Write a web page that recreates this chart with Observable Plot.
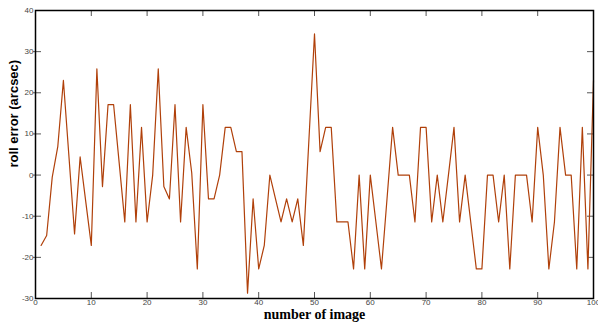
<!DOCTYPE html>
<html>
<head>
<meta charset="utf-8">
<script src="https://cdn.jsdelivr.net/npm/d3@7"></script>
<script src="https://cdn.jsdelivr.net/npm/@observablehq/plot@0.6"></script>
<style>
  html, body { margin: 0; padding: 0; background: #fff; }
  #chart svg { display: block; }
</style>
</head>
<body>
<div id="chart"></div>
<script>
// image numbers 1..100
const imageNumber = d3.range(1, 101);
// roll error (arcsec)
const rollError = [
  -17.1, -14.7, -0.5, 7.0, 23.0, 4.4, -14.3, 4.4, -6.4, -17.1,
  25.8, -2.8, 17.1, 17.1, 2.9, -11.4, 17.1, -11.4, 11.6, -11.4,
  0.0, 25.8, -2.8, -5.8, 17.1, -11.4, 11.6, 0.5, -22.8, 17.1,
  -5.8, -5.8, 0.0, 11.6, 11.6, 5.7, 5.7, -28.7, -5.8, -22.8,
  -17.1, 0.0, -5.7, -11.4, -5.8, -11.4, -5.8, -17.1, 8.6, 34.3,
  5.7, 11.6, 11.6, -11.4, -11.4, -11.4, -22.8, 0.0, -22.8, 0.0,
  -11.4, -22.8, -5.7, 11.6, 0.0, 0.0, 0.0, -11.4, 11.6, 11.6,
  -11.4, 0.0, -11.4, 0.0, 11.6, -11.4, 0.0, -11.4, -22.8, -22.8,
  0.0, 0.0, -11.4, 0.0, -22.8, 0.0, 0.0, 0.0, -11.4, 11.6,
  0.0, -22.8, -11.4, 11.6, 0.0, 0.0, -22.8, 11.6, -22.8, 23.0
];
const xTickLabels = [0, 10, 20, 30, 40, 50, 60, 70, 80, 90, 100];
const yTickLabels = [-30, -20, -10, 0, 10, 20, 30, 40];
const xInnerTicks = [10, 20, 30, 40, 50, 60, 70, 80, 90];
const yInnerTicks = [-20, -10, 0, 10, 20, 30];
const xLabel = "number of image";
const yLabel = "roll error (arcsec)";

const data = imageNumber.map((n, i) => ({n, v: rollError[i]}));

const W = 598, H = 327;
const mL = 35, mR = 5, mT = 10, mB = 29;
const innerW = W - mL - mR, innerH = H - mT - mB;
const tickLen = 6;

const chart = Plot.plot({
  width: W,
  height: H,
  marginLeft: mL,
  marginRight: mR,
  marginTop: mT,
  marginBottom: mB,
  style: {fontFamily: "Liberation Sans, Arial, sans-serif", background: "#fff"},
  x: {domain: [0, 100]},
  y: {domain: [-30, 40]},
  marks: [
    Plot.axisX({ticks: xTickLabels, tickSize: 0, tickPadding: 1, fontSize: 8, fill: "#444", label: null, tickFormat: d => String(d)}),
    Plot.axisY({ticks: yTickLabels, tickSize: 0, tickPadding: 2, fontSize: 8, fill: "#444", label: null, tickFormat: d => String(d)}),
    // inward ticks
    Plot.tickX(xInnerTicks, {x: d => d, insetTop: innerH - tickLen, stroke: "#555", strokeWidth: 1}),
    Plot.tickX(xInnerTicks, {x: d => d, insetBottom: innerH - tickLen, stroke: "#555", strokeWidth: 1}),
    Plot.tickY(yInnerTicks, {y: d => d, insetRight: innerW - tickLen, insetLeft: -2, stroke: "#555", strokeWidth: 1}),
    Plot.tickY(yInnerTicks, {y: d => d, insetLeft: innerW - tickLen, stroke: "#555", strokeWidth: 1}),
    Plot.line(data, {x: "n", y: "v", stroke: "#b0400a", strokeWidth: 1.2}),
    Plot.frame({stroke: "#000", strokeWidth: 1.5}),
    Plot.text([xLabel], {frameAnchor: "bottom", dy: 20, fontFamily: "Liberation Serif, Times New Roman, serif", fontWeight: "bold", fontSize: 14, fill: "#000"}),
    Plot.text([yLabel], {frameAnchor: "left", dx: -22, dy: 13, rotate: -90, fontFamily: "Liberation Sans, Arial, sans-serif", fontWeight: "bold", fontSize: 13, fill: "#000"})
  ]
});
document.getElementById("chart").appendChild(chart);
</script>
</body>
</html>
